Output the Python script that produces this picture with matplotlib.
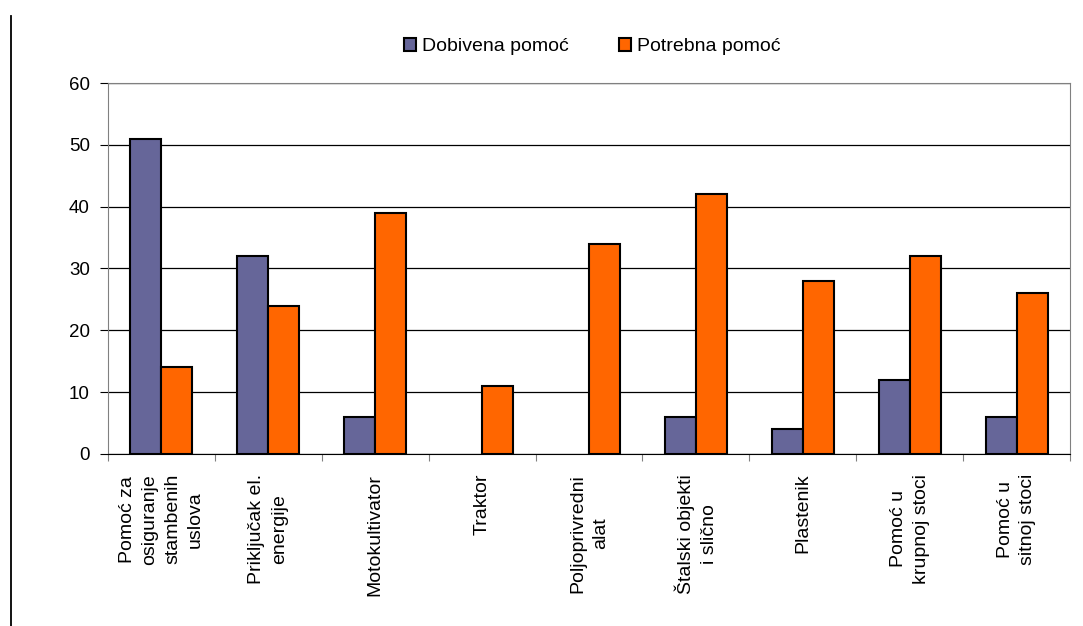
import matplotlib
matplotlib.use("Agg")
import matplotlib.pyplot as plt
from matplotlib.lines import Line2D
import numpy as np

categories = [
    "Pomoć za\nosiguranje\nstambenih\nuslova",
    "Priključak el.\nenergije",
    "Motokultivator",
    "Traktor",
    "Poljoprivredni\nalat",
    "Štalski objekti\ni slično",
    "Plastenik",
    "Pomoć u\nkrupnoj stoci",
    "Pomoć u\nsitnoj stoci",
]
dobivena = [51, 32, 6, 0, 0, 6, 4, 12, 6]
potrebna = [14, 24, 39, 11, 34, 42, 28, 32, 26]

plt.rcParams["font.family"] = ["Liberation Sans", "DejaVu Sans"]

fig = plt.figure(figsize=(10.83, 6.26), dpi=100)
ax = fig.add_axes([0.0997, 0.2748, 0.8883, 0.5926])

x = np.arange(len(categories))
w = 0.29
# no outline for empty bars
lw_d = [1.5 if v > 0 else 0 for v in dobivena]
lw_p = [1.5 if v > 0 else 0 for v in potrebna]
ax.bar(x - w / 2, dobivena, w, color="#666699", edgecolor="black",
       linewidth=lw_d, label="Dobivena pomoć", zorder=3)
ax.bar(x + w / 2, potrebna, w, color="#FF6600", edgecolor="black",
       linewidth=lw_p, label="Potrebna pomoć", zorder=3)

ax.set_xlim(-0.5, len(categories) - 0.5)
ax.set_ylim(0, 60)
ax.set_yticks(range(0, 61, 10))
ax.grid(axis="y", color="black", linewidth=0.9, zorder=0)
ax.tick_params(axis="y", labelsize=13.5, length=6, color="black", pad=7)

# category labels between tick marks
ax.set_xticks(np.arange(len(categories) + 1) - 0.5)
ax.set_xticklabels([])
ax.tick_params(axis="x", length=5, color="#808080")
for i, lab in enumerate(categories):
    ax.text(i, -3.2, lab, rotation=90, ha="center", va="top",
            multialignment="center", fontsize=14, linespacing=1.45)

for s in ["top", "right", "left"]:
    ax.spines[s].set_color("#808080")
ax.spines["bottom"].set_color("black")

fig.legend(loc="center", bbox_to_anchor=(0.547, 0.925), ncol=2, frameon=False,
           fontsize=14, handlelength=0.6, handleheight=0.6, handletextpad=0.3,
           columnspacing=2.6)

fig.add_artist(Line2D([0.0098, 0.0098], [0, 0.975], color="black", linewidth=1.3))

fig.savefig("out.png", dpi=100)
